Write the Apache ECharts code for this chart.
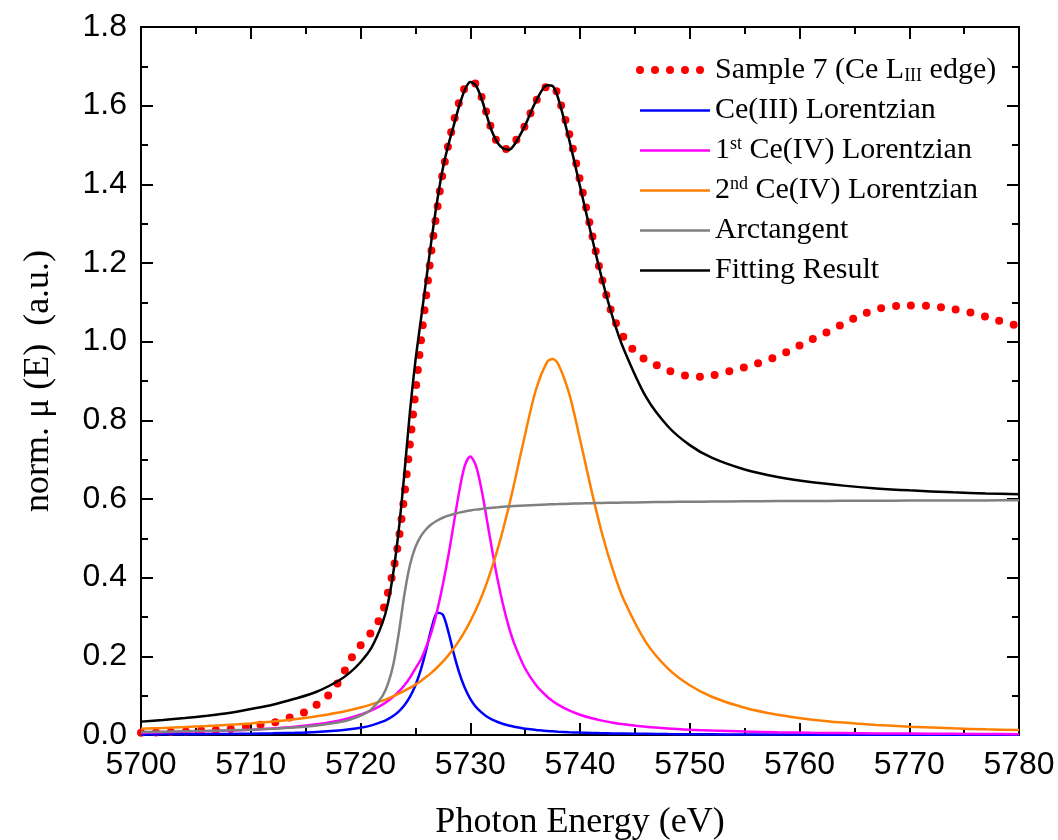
<!DOCTYPE html>
<html><head><meta charset="utf-8">
<script src="https://cdn.jsdelivr.net/npm/echarts@6/dist/echarts.min.js"></script>
<style>html,body{margin:0;padding:0;background:#fff}#c{width:1058px;height:840px}</style>
</head><body><div id="c"></div>
<script>
// ---- data ----
const xTicks = [5700, 5710, 5720, 5730, 5740, 5750, 5760, 5770, 5780];
const yTicks = [0.0, 0.2, 0.4, 0.6, 0.8, 1.0, 1.2, 1.4, 1.6, 1.8];

const energy = [5700,5702,5704,5706,5708,5710,5712,5714,5716,5718,5719,5720,5721,5722,5722.5,5723,5723.5,5724,5724.5,5725,5725.5,5726,5726.5,5727,5727.5,5728,5728.5,5729,5729.5,5730,5730.5,5731,5731.5,5732,5732.5,5733,5733.5,5734,5735,5736,5737,5737.5,5738,5739,5740,5741,5742,5743,5744,5746,5748,5750,5752,5755,5758,5761,5764,5767,5770,5774,5777,5780];

const ce3Lorentzian = [.0014,.0016,.0019,.0023,.0028,.0034,.0044,.0057,.0079,.0116,.0145,.0185,.0245,.0338,.0403,.049,.0603,.0757,.097,.126,.166,.218,.274,.311,.306,.263,.207,.158,.120,.092,.072,.058,.047,.039,.033,.028,.024,.021,.016,.013,.010,.0093,.0085,.0072,.0061,.0053,.0046,.0040,.0036,.0029,.0023,.0020,.0017,.0013,.0011,.0009,.0008,.0006,.0006,.0005,.0004,.0004];

const ce4Lorentzian1 = [.0061,.0070,.0081,.0095,.0113,.0136,.0167,.021,.0272,.0366,.0431,.0515,.0625,.0773,.0866,.0977,.1108,.1266,.1457,.169,.192,.225,.265,.318,.382,.455,.538,.620,.684,.708,.686,.628,.550,.469,.394,.330,.276,.233,.169,.1266,.0977,.0866,.0773,.0625,.0515,.0431,.0366,.0314,.0272,.021,.0167,.0136,.0113,.0088,.0070,.0057,.0048,.0040,.0035,.0029,.0025,.0022];

const ce4Lorentzian2 = [.0161,.0179,.0201,.0227,.0258,.0295,.0341,.040,.0474,.057,.063,.0698,.0779,.0873,.0927,.0986,.105,.112,.1197,.128,.1375,.148,.1593,.1722,.1865,.2025,.2203,.2405,.2633,.2888,.3176,.3498,.3863,.4273,.473,.5238,.579,.639,.7648,.879,.948,.956,.944,.869,.752,.627,.513,.419,.343,.2363,.1695,.1264,.0973,.0691,.0514,.0397,.0315,.0256,.0212,.0169,.0144,.0125];

const arctangent = [.0078,.0085,.0094,.0105,.0118,.0135,.0158,.019,.0239,.0322,.0389,.049,.0659,.099,.1298,.1806,.2612,.3573,.4317,.4775,.5056,.5238,.5364,.5454,.5523,.5577,.5619,.5654,.5684,.5708,.573,.5748,.5764,.5778,.579,.5802,.5812,.5821,.5836,.5849,.5861,.5866,.587,.5879,.5886,.5893,.5899,.5904,.5909,.5917,.5924,.593,.5935,.5941,.5946,.595,.5954,.5957,.596,.5963,.5965,.5967];

const fittingResult = [.034,.038,.043,.049,.056,.066,.077,.092,.110,.138,.158,.185,.222,.285,.335,.415,.525,.665,.82,.95,1.055,1.16,1.265,1.36,1.44,1.50,1.55,1.60,1.64,1.66,1.652,1.62,1.575,1.533,1.505,1.491,1.488,1.50,1.55,1.612,1.652,1.65,1.62,1.515,1.395,1.275,1.16,1.06,.98,.86,.785,.737,.705,.675,.656,.643,.634,.627,.622,.617,.614,.612];

const energyData = [5700,5702,5704,5706,5708,5710,5712,5713,5714,5715,5716,5717,5718,5718.5,5719,5719.5,5720,5720.5,5721,5721.5,5722,5722.5,5723,5723.5,5724,5724.5,5725,5725.5,5726,5726.5,5727,5727.5,5728,5728.5,5729,5729.5,5730,5730.5,5731,5731.5,5732,5732.5,5733,5733.5,5734,5735,5736,5737,5737.5,5738,5739,5740,5741,5742,5743,5744,5745,5746,5747,5748,5749,5750,5751,5752,5753,5754,5755,5756,5757,5758,5759,5760,5761,5762,5763,5764,5765,5766,5767,5768,5769,5770,5771,5772,5773,5774,5775,5776,5777,5778,5779,5780];

const sample7 = [.006,.007,.009,.012,.015,.023,.031,.039,.049,.059,.077,.099,.135,.16,.186,.211,.228,.243,.262,.282,.312,.362,.42,.50,.61,.74,.87,1.0,1.12,1.24,1.34,1.43,1.50,1.56,1.61,1.645,1.66,1.655,1.625,1.58,1.535,1.505,1.49,1.49,1.505,1.55,1.612,1.65,1.652,1.625,1.53,1.41,1.285,1.16,1.065,1.01,.975,.953,.94,.927,.918,.912,.911,.914,.92,.928,.935,.943,.952,.963,.976,.99,1.004,1.017,1.031,1.046,1.06,1.072,1.082,1.088,1.091,1.092,1.092,1.09,1.087,1.083,1.078,1.071,1.063,1.055,1.046,1.04];

const names = ['Sample 7 (Ce LIII edge)', 'Ce(III) Lorentzian', '1st Ce(IV) Lorentzian', '2nd Ce(IV) Lorentzian', 'Arctangent', 'Fitting Result'];

function pairs(xs, ys) { return xs.map((x, i) => [x, ys[i]]); }

const chart = echarts.init(document.getElementById('c'), null, {renderer: 'canvas'});
const serif = 'Liberation Serif, Times New Roman, serif';
const sans = 'Liberation Sans, Arial, sans-serif';

const tickCommon = {
  axisLine: {show: true, onZero: false, lineStyle: {color: '#000', width: 2}},
  axisTick: {show: true, inside: true, length: 12, lineStyle: {color: '#000', width: 2}},
  minorTick: {show: true, splitNumber: 2, length: 7, lineStyle: {color: '#000', width: 2}},
  splitLine: {show: false}, minorSplitLine: {show: false}
};

const dotStyle = {color: '#ff0000', width: 8, type: [0, 15], cap: 'round'};

function lineSeries(name, xs, ys, color, z) {
  return {name, type: 'line', data: pairs(xs, ys), smooth: 0.3, symbol: 'none', z,
    lineStyle: {color, width: 2.5}, itemStyle: {color}, emphasis: {disabled: true}, animation: false};
}

const legendRich = {
  sub: {fontFamily: serif, fontSize: 18, color: '#000', verticalAlign: 'bottom', padding: [13, 0, 0, 0]},
  sup: {fontFamily: serif, fontSize: 18, color: '#000', verticalAlign: 'top', padding: [0, 0, 11, 0]}
};

const legendColors = ['#ff0000', '#0000ff', '#ff00ff', '#ff8000', '#808080', '#000000'];

const option = {
  backgroundColor: '#fff',
  animation: false,
  grid: {left: 141, right: 39, top: 27, bottom: 105, containLabel: false, outerBoundsMode: 'none'},
  legend: {
    orient: 'vertical', left: 631, top: 50, itemWidth: 70, itemHeight: 14, itemGap: 10,
    data: names.map((n, i) => ({
      name: n,
      itemStyle: {opacity: 0},
      lineStyle: i === 0 ? dotStyle : {color: legendColors[i], width: 2.5, type: 'solid'}
    })),
    selectedMode: false,
    textStyle: {fontFamily: serif, fontSize: 30, color: '#000', padding: [0, 0, 0, 0], rich: legendRich},
    formatter: function (n) {
      if (n === names[0]) return 'Sample 7 (Ce L{sub|III} edge)';
      if (n === names[2]) return '1{sup|st} Ce(IV) Lorentzian';
      if (n === names[3]) return '2{sup|nd} Ce(IV) Lorentzian';
      return n;
    }
  },
  xAxis: [
    Object.assign({type: 'value', min: xTicks[0], max: xTicks[xTicks.length - 1], interval: xTicks[1] - xTicks[0], position: 'bottom',
      name: 'Photon Energy (eV)', nameLocation: 'middle', nameGap: 70,
      nameTextStyle: {fontFamily: serif, fontSize: 36, color: '#000'},
      axisLabel: {fontFamily: sans, fontSize: 32, color: '#000', margin: 14, formatter: v => String(v)}}, tickCommon),
    Object.assign({type: 'value', min: xTicks[0], max: xTicks[xTicks.length - 1], interval: xTicks[1] - xTicks[0], position: 'top',
      axisLabel: {show: false}}, tickCommon)
  ],
  yAxis: [
    Object.assign({type: 'value', min: yTicks[0], max: yTicks[yTicks.length - 1], interval: yTicks[1] - yTicks[0], position: 'left',
      name: 'norm. \u03bc (E)  (a.u.)', nameLocation: 'middle', nameGap: 84,
      nameTextStyle: {fontFamily: serif, fontSize: 36, color: '#000'},
      axisLabel: {fontFamily: sans, fontSize: 32, color: '#000', margin: 14, formatter: v => v.toFixed(1)}}, tickCommon),
    Object.assign({type: 'value', min: yTicks[0], max: yTicks[yTicks.length - 1], interval: yTicks[1] - yTicks[0], position: 'right',
      axisLabel: {show: false}}, tickCommon)
  ],
  series: [
    {name: names[0], type: 'line', data: pairs(energyData, sample7), smooth: 0.3, symbol: 'none', z: 1,
      lineStyle: dotStyle, itemStyle: {color: '#ff0000'},
      emphasis: {disabled: true}, animation: false},
    lineSeries(names[1], energy, ce3Lorentzian, '#0000ff', 2),
    lineSeries(names[2], energy, ce4Lorentzian1, '#ff00ff', 2),
    lineSeries(names[3], energy, ce4Lorentzian2, '#ff8000', 2),
    lineSeries(names[4], energy, arctangent, '#808080', 2),
    lineSeries(names[5], energy, fittingResult, '#000000', 3)
  ]
};
chart.setOption(option);
</script></body></html>
